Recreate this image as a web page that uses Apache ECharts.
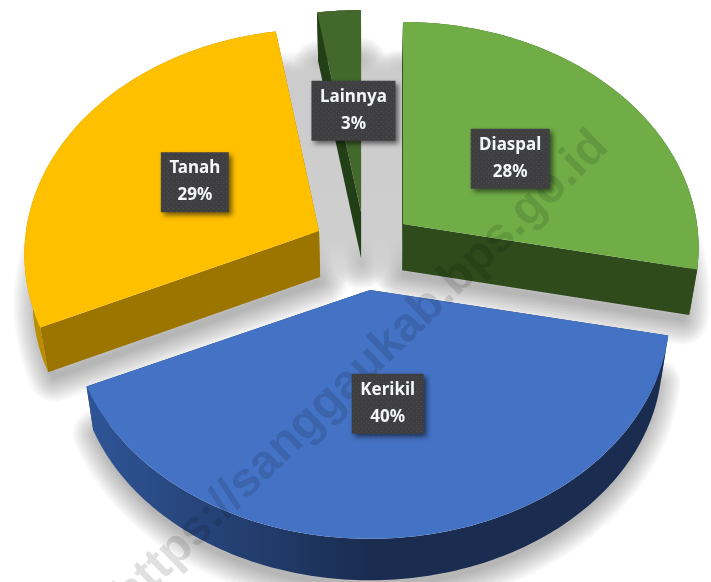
<!DOCTYPE html>
<html>
<head>
<meta charset="utf-8">
<style>html,body{margin:0;padding:0;background:#fff}#c{width:711px;height:582px}</style>
<script src="https://cdn.jsdelivr.net/npm/echarts@6/dist/echarts.min.js"></script>
</head>
<body>
<div id="c"></div>
<script>
// ---- data ----
const categories = ['Diaspal', 'Kerikil', 'Tanah', 'Lainnya'];
const values = [28.2, 40, 29.2, 2.6];
const watermarkText = 'https://sanggaukab.bps.go.id';

// ---- styles ----
const topColors = ['#70AD47', '#4472C4', '#FFC000', '#43682B'];
const radialWallColors = ['#2F4A1B', '#203864', '#9C7500', '#223F17'];
const arcWallStops = [
  ['#2F4A1B', '#2F4A1B'],
  ['#2F5597', '#1A2C50'],
  ['#BC8E00', '#9C7500'],
  ['#223F17', '#223F17']
];

// ---- projection layout: exploded apex of each slice and the tilted-disc perspective ----
const apexX = [403, 370, 319, 361];
const apexY = [224, 290, 231, 212];
const radiusXs = [294, 298, 293, 298];
const radiusY = 223, perspective = 0.104;
const vanishX = 365, bottomScaleX = 0.976, bottomScaleY = 0.985, bottomShiftY = 49.5;
const labelFraction = 0.5;
const labelNudgeX = [-3, 0, 2, 4];
const labelNudgeY = [3, -3, 2.5, 4.5];

const total = values.reduce((a, b) => a + b, 0);
const startAngles = [];
values.reduce((acc, v, i) => { startAngles[i] = acc; return acc + v / total * 360; }, 0);

function project(i, deg, f) {
  const r = deg * Math.PI / 180, u = Math.sin(r) * f, v = -Math.cos(r) * f;
  const w = 1 - perspective * v;
  return [apexX[i] + radiusXs[i] * u / w, apexY[i] + radiusY * v / w];
}
function lower(p) {
  return [vanishX + (p[0] - vanishX) * bottomScaleX, p[1] * bottomScaleY + bottomShiftY];
}
function arcPoints(i, value) {
  const a0 = startAngles[i], sweep = value / total * 360, n = Math.max(4, Math.ceil(sweep));
  const pts = [];
  for (let k = 0; k <= n; k++) pts.push(project(i, a0 + sweep * k / n, 1));
  return pts;
}

// dotted texture of the label boxes
const tile = document.createElement('canvas');
tile.width = 5; tile.height = 5;
(function () {
  const g = tile.getContext('2d');
  g.fillStyle = '#3F3F41'; g.fillRect(0, 0, 5, 5);
  g.fillStyle = '#4E4E50'; g.fillRect(1, 1, 1, 1); g.fillRect(3, 3, 1, 1);
})();
const labelFont = 'bold 17px "Noto Sans"';
const measure = document.createElement('canvas').getContext('2d');
measure.font = labelFont;

// soft shadow under the slices: widening translucent outlines of the lower face
const shadowWidths = [6, 11, 16, 21, 26, 31, 36, 41, 46, 51];
const shadowScaleX = 0.98, shadowShiftY = 4;
function shadowPoint(p) {
  const q = lower(p);
  return [vanishX + (q[0] - vanishX) * shadowScaleX, q[1] + shadowShiftY];
}
function shadowLayers(points) {
  return shadowWidths.slice().reverse().map(w => ({
    type: 'polygon', z2: 0,
    shape: { points: points },
    style: { fill: 'none', stroke: 'rgba(0,0,0,0.032)', lineWidth: w, lineJoin: 'round' }
  }));
}
// grey pool in the gap between Tanah and Diaspal, from the corners of those two slices
function gapShade() {
  const tanahEnd = lower(project(2, 360 * (values[0] + values[1] + values[2]) / total, 1));
  const diaspalStart = lower(project(0, 0, 1));
  const tanahApex = lower(project(2, 0, 0)), diaspalApex = lower(project(0, 0, 0));
  const top = Math.min(tanahEnd[1], diaspalStart[1]) - 20, bottom = Math.max(tanahApex[1], diaspalApex[1]) + 12;
  const span = bottom - top;
  return {
    type: 'polygon', z2: 0.5,
    shape: { points: [[tanahEnd[0], top], [diaspalStart[0], top], [diaspalApex[0], bottom], [tanahApex[0], bottom]] },
    style: {
      fill: {
        type: 'linear', global: true, x: 0, y: top, x2: 0, y2: bottom,
        colorStops: [
          { offset: 0, color: 'rgba(204,204,204,0)' },
          { offset: 22 / span, color: 'rgba(204,204,204,1)' },
          { offset: 1 - 50 / span, color: 'rgba(206,206,206,1)' },
          { offset: 1, color: 'rgba(206,206,206,0)' }
        ]
      }
    }
  };
}

function renderSlice(params, api) {
  const i = params.dataIndex, arc = arcPoints(i, api.value(0));
  const apex = project(i, 0, 0), first = arc[0], last = arc[arc.length - 1];
  const xs = arc.map(p => p[0]);
  const wall = a => [a[0], a[1], lower(a[1]), lower(a[0])];
  const under = shadowLayers([apex].concat(arc).map(shadowPoint));
  if (i === categories.length - 1) under.push(gapShade());
  return {
    type: 'group',
    children: under.concat([
      { type: 'polygon', z2: 1, shape: { points: wall([apex, first]) }, style: { fill: radialWallColors[i] } },
      { type: 'polygon', z2: 1, shape: { points: wall([apex, last]) }, style: { fill: radialWallColors[i] } },
      {
        type: 'polygon', z2: 2,
        shape: { points: arc.concat(arc.map(lower).reverse()) },
        style: {
          fill: {
            type: 'linear', global: true,
            x: Math.min.apply(null, xs), y: 0, x2: apexX[i] + (i === 1 ? 0 : radiusXs[i] * 0.2), y2: 0,
            colorStops: [{ offset: 0, color: arcWallStops[i][0] }, { offset: 1, color: arcWallStops[i][1] }]
          }
        }
      },
      { type: 'polygon', z2: 3, shape: { points: [apex].concat(arc) }, style: { fill: topColors[i] } }
    ])
  };
}
function renderLabel(params, api) {
  const i = params.dataIndex, v = api.value(0);
  const c = project(i, startAngles[i] + v / total * 180, labelFraction);
  c[0] += labelNudgeX[i]; c[1] += labelNudgeY[i];
  const line1 = categories[i], line2 = Math.round(v / total * 100) + '%';
  const w = Math.round(measure.measureText(line1).width) + 17, h = 60;
  return {
    type: 'group',
    children: [
      {
        type: 'rect',
        shape: { x: c[0] - w / 2, y: c[1] - h / 2, width: w, height: h },
        style: {
          fill: { image: tile, repeat: 'repeat' },
          shadowBlur: 5, shadowOffsetX: 3, shadowOffsetY: 3, shadowColor: 'rgba(0,0,0,0.55)'
        }
      },
      {
        type: 'text',
        style: {
          x: c[0], y: c[1] - 0.5, text: line1 + '\n' + line2,
          align: 'center', verticalAlign: 'middle',
          font: labelFont, lineHeight: 27, fill: '#F4F6FA'
        }
      }
    ]
  };
}

const seriesData = categories.map((name, i) => ({ name: name, value: [values[i]] }));
const chart = echarts.init(document.getElementById('c'));
chart.setOption({
  animation: false,
  backgroundColor: '#fff',
  tooltip: { show: false },
  series: [
    { type: 'custom', coordinateSystem: 'none', z: 2, silent: true, data: seriesData, renderItem: renderSlice },
    { type: 'custom', coordinateSystem: 'none', z: 10, silent: true, data: seriesData, renderItem: renderLabel }
  ],
  graphic: [{
    type: 'text', z: 5, silent: true,
    x: 361, y: 371, rotation: 44 * Math.PI / 180,
    style: {
      text: watermarkText, align: 'center', verticalAlign: 'middle',
      font: 'bold 48px "Liberation Sans"', fill: 'rgba(0,0,0,0.12)'
    }
  }]
});
</script>
</body>
</html>
